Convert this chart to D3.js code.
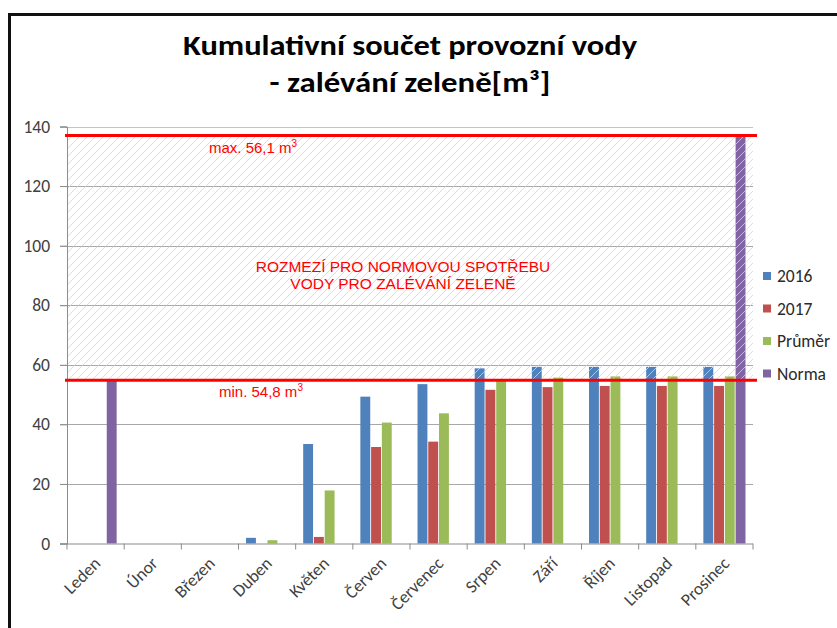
<!DOCTYPE html>
<html>
<head>
<meta charset="utf-8">
<script src="https://cdn.jsdelivr.net/npm/d3@7"></script>
<style>
  html, body { margin: 0; padding: 0; background: #fff; }
  svg { display: block; }
</style>
</head>
<body>
<svg id="chart" width="837" height="628"></svg>
<script>
// data
var months = ['Leden', 'Únor', 'Březen', 'Duben', 'Květen', 'Červen', 'Červenec', 'Srpen', 'Září', 'Říjen', 'Listopad', 'Prosinec'];
var seriesNames = ['2016', '2017', 'Průměr', 'Norma'];
var values2016 = [null, null, null, 1.9, 33.4, 49.3, 53.5, 58.8, 59.3, 59.3, 59.3, 59.3];
var values2017 = [null, null, null, null, 2.2, 32.4, 34.2, 51.6, 52.5, 52.9, 52.9, 52.9];
var valuesPrumer = [null, null, null, 1.1, 17.8, 40.6, 43.7, 54.6, 55.7, 56.1, 56.1, 56.1];
var valuesNorma = [54.8, null, null, null, null, null, null, null, null, null, null, 137];
var yTicks = [0, 20, 40, 60, 80, 100, 120, 140];
var minLimit = 54.8;
var maxLimit = 137;

var colors = ['#4F81BD', '#C0504D', '#9BBB59', '#8064A2'];
var allSeries = [values2016, values2017, valuesPrumer, valuesNorma];

var svg = d3.select('#chart');
var labelFont = "Carlito, Calibri, 'Open Sans', sans-serif";
var arial = "'Liberation Sans', Arial, sans-serif";

// frame
svg.append('line').attr('x1', 8).attr('x2', 837).attr('y1', 14.5).attr('y2', 14.5)
  .attr('stroke', '#111').attr('stroke-width', 3);
svg.append('line').attr('x1', 9.5).attr('x2', 9.5).attr('y1', 13).attr('y2', 628)
  .attr('stroke', '#111').attr('stroke-width', 3);

// title
svg.append('text').attr('x', 410).attr('y', 55).attr('text-anchor', 'middle')
  .attr('font-family', labelFont).attr('font-weight', 'bold').attr('font-size', 28)
  .attr('textLength', 454).attr('lengthAdjust', 'spacingAndGlyphs')
  .attr('fill', '#000').text('Kumulativní součet provozní vody');
svg.append('text').attr('x', 410).attr('y', 92).attr('text-anchor', 'middle')
  .attr('font-family', labelFont).attr('font-weight', 'bold').attr('font-size', 28)
  .attr('textLength', 281).attr('lengthAdjust', 'spacingAndGlyphs')
  .attr('fill', '#000').text('- zalévání zeleně[m³]');

// scales
var x0 = d3.scaleBand().domain(months).range([67, 753]).padding(0);
var x1 = d3.scaleBand().domain(seriesNames).range([0, x0.bandwidth()])
  .paddingInner(0.08).paddingOuter(0.7);
var y = d3.scaleLinear().domain([0, 140]).range([543.5, 126.5]);

// gridlines
svg.append('g').selectAll('line')
  .data(yTicks.filter(function(d){ return d > 0; }))
  .enter().append('line')
  .attr('x1', 60).attr('x2', 753)
  .attr('y1', function(d){ return Math.round(y(d)) + 0.5; })
  .attr('y2', function(d){ return Math.round(y(d)) + 0.5; })
  .attr('stroke', function(d){ return d === 140 ? '#c4c4c4' : '#a8a8a8'; })
  .attr('stroke-width', 1.2);

// bars
var barGroup = svg.append('g');
allSeries.forEach(function(vals, si) {
  barGroup.selectAll('rect.s' + si)
    .data(vals.map(function(v, i){ return {month: months[i], value: v}; })
      .filter(function(d){ return d.value !== null; }))
    .enter().append('rect')
    .attr('class', 's' + si)
    .attr('x', function(d){ return x0(d.month) + x1(seriesNames[si]); })
    .attr('width', x1.bandwidth())
    .attr('y', function(d){ return y(d.value); })
    .attr('height', function(d){ return y(0) - y(d.value); })
    .attr('fill', colors[si]);
});

// hatched range between min and max
var defs = svg.append('defs');
var pat = defs.append('pattern').attr('id', 'hatch')
  .attr('patternUnits', 'userSpaceOnUse').attr('width', 8).attr('height', 8);
pat.append('path').attr('d', 'M0,8 L8,0 M-1,1 L1,-1 M7,9 L9,7')
  .attr('stroke', '#d4d4d4').attr('stroke-width', 0.8);
svg.append('rect')
  .attr('x', 67).attr('width', 753 - 67)
  .attr('y', y(maxLimit)).attr('height', y(minLimit) - y(maxLimit))
  .attr('fill', 'url(#hatch)');

// axes
var yAxis = svg.append('g').attr('transform', 'translate(67,0)')
  .call(d3.axisLeft(y).tickValues(yTicks).tickSize(7).tickPadding(10));
yAxis.select('.domain').attr('stroke', '#8c8c8c');
yAxis.selectAll('.tick line').attr('stroke', '#8c8c8c');
yAxis.selectAll('.tick text').attr('font-family', labelFont).attr('font-size', 17.5)
  .attr('fill', '#404040');

var xAxis = svg.append('g').attr('transform', 'translate(0,' + y(0) + ')');
xAxis.append('line').attr('x1', 60).attr('x2', 753).attr('y1', 0.5).attr('y2', 0.5)
  .attr('stroke', '#8c8c8c').attr('stroke-width', 1.2);
xAxis.selectAll('line.tk').data(months.concat(['end'])).enter().append('line')
  .attr('class', 'tk')
  .attr('x1', function(d){ return d === 'end' ? 753 : x0(d); })
  .attr('x2', function(d){ return d === 'end' ? 753 : x0(d); })
  .attr('y1', 0).attr('y2', 6).attr('stroke', '#8c8c8c');
xAxis.selectAll('text').data(months).enter().append('text')
  .attr('transform', function(d){
    return 'translate(' + (x0(d) + x0.bandwidth() / 2 + 6) + ',' + 21 + ') rotate(-45)';
  })
  .attr('text-anchor', 'end')
  .attr('font-family', labelFont).attr('font-size', 17.5).attr('fill', '#404040')
  .text(function(d){ return d; });

// limit lines
[maxLimit, minLimit].forEach(function(v) {
  svg.append('line').attr('x1', 65).attr('x2', 757)
    .attr('y1', y(v)).attr('y2', y(v))
    .attr('stroke', '#ff0000').attr('stroke-width', 3);
});

// annotations
function limitLabel(xp, yp, txt) {
  var t = svg.append('text').attr('x', xp).attr('y', yp)
    .attr('font-family', arial).attr('font-size', 15).attr('fill', '#ff0000');
  t.append('tspan').text(txt);
  t.append('tspan').attr('dy', -6).attr('font-size', 10).text('3');
}
limitLabel(209, 153, 'max. 56,1 m');
limitLabel(219, 397, 'min. 54,8 m');

svg.append('text').attr('x', 403).attr('y', 272).attr('text-anchor', 'middle')
  .attr('font-family', arial).attr('font-size', 15.5).attr('fill', '#ff0000')
  .text('ROZMEZÍ PRO NORMOVOU SPOTŘEBU');
svg.append('text').attr('x', 403).attr('y', 289).attr('text-anchor', 'middle')
  .attr('font-family', arial).attr('font-size', 15.5).attr('fill', '#ff0000')
  .text('VODY PRO ZALÉVÁNÍ ZELENĚ');

// legend
var legend = svg.append('g');
seriesNames.forEach(function(name, i) {
  var ly = 276 + i * 32.5;
  legend.append('rect').attr('x', 763).attr('y', ly - 4).attr('width', 8).attr('height', 8)
    .attr('fill', colors[i]);
  legend.append('text').attr('x', 777).attr('y', ly).attr('dy', '0.35em')
    .attr('font-family', labelFont).attr('font-size', 17.5).attr('fill', '#2a2a2a')
    .text(name);
});
</script>
</body>
</html>
